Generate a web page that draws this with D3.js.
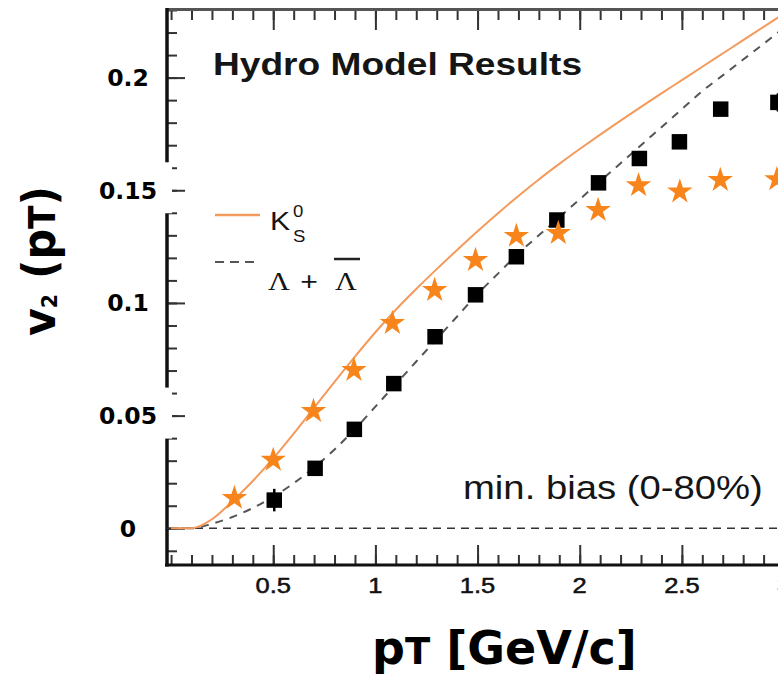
<!DOCTYPE html>
<html>
<head>
<meta charset="utf-8">
<script src="https://cdn.jsdelivr.net/npm/d3@7"></script>
<style>
  body { margin: 0; background: #fff; }
  svg { display: block; }
</style>
</head>
<body>
<svg width="778" height="677"></svg>
<script>
// hydro model curves
const hydroPt = [0, 0.1, 0.2, 0.3, 0.4, 0.5, 0.6, 0.7, 0.8, 0.9, 1.0, 1.1, 1.2, 1.3, 1.4, 1.5, 1.6,
                 1.7, 1.8, 1.9, 2.0, 2.1, 2.2, 2.3, 2.4, 2.5, 2.6, 2.7, 2.8, 2.9, 3.0, 3.1, 3.2];
const hydroK0s = [0, 0, 0.004, 0.012, 0.021, 0.031, 0.042, 0.0535, 0.065, 0.0762, 0.087, 0.097, 0.1062,
                  0.115, 0.1235, 0.1318, 0.1398, 0.1475, 0.1548, 0.1617, 0.1683, 0.1747, 0.1809, 0.187,
                  0.193, 0.1989, 0.2048, 0.2107, 0.2166, 0.2225, 0.2284, 0.2343, 0.240];
const hydroLambda = [0, 0, 0.002, 0.005, 0.009, 0.014, 0.020, 0.027, 0.035, 0.044, 0.054, 0.064, 0.074,
                     0.084, 0.094, 0.104, 0.113, 0.122, 0.130, 0.138, 0.146, 0.154, 0.162, 0.170, 0.178,
                     0.186, 0.194, 0.201, 0.208, 0.215, 0.222, 0.228, 0.234];

// measured points
const k0sPt = [0.31, 0.5, 0.697, 0.895, 1.083, 1.29, 1.49, 1.69, 1.895, 2.09, 2.288, 2.49, 2.688, 2.965];
const k0sV2 = [0.0134, 0.0303, 0.052, 0.0702, 0.091, 0.1057, 0.119, 0.1297, 0.131, 0.1412, 0.1522,
               0.1494, 0.1545, 0.1548];
const lambdaPt = [0.505, 0.705, 0.897, 1.09, 1.292, 1.49, 1.69, 1.888, 2.092, 2.292, 2.488, 2.69, 2.97];
const lambdaV2 = [0.0125, 0.0266, 0.0439, 0.0642, 0.085, 0.1036, 0.1205, 0.1368, 0.1533, 0.1641,
                  0.1715, 0.186, 0.189];
const lambdaErr = [0.005, 0.002, 0.002, 0.002, 0.002, 0.002, 0.002, 0.002, 0.003, 0.003, 0.003, 0.003, 0.004];

const xTicks = [0.5, 1, 1.5, 2, 2.5, 3];
const xTickLabels = ['0.5', '1', '1.5', '2', '2.5', '3'];
const yTicks = [0, 0.05, 0.1, 0.15, 0.2];
const yTickLabels = ['0', '0.05', '0.1', '0.15', '0.2'];
const yBoxed = [0.15, 0.05];

const orangeLine = '#f39a5c', orangeStar = '#f7851c';
const SX = 1.16; // the original figure is stretched sideways

const svg = d3.select('svg');
const x = d3.scaleLinear().domain([-0.02, 3.2]).range([167, 824.9]);
const y = d3.scaleLinear().domain([-0.0163, 0.23]).range([565, 10]);

function sText(parent, px, py, str, size, family, weight, anchor) {
  return parent.append('text')
    .attr('transform', `translate(${px},${py}) scale(${SX},1)`)
    .attr('font-family', family || 'Liberation Sans, Arial, sans-serif')
    .attr('font-size', size)
    .attr('font-weight', weight || 'normal')
    .attr('text-anchor', anchor || 'start')
    .attr('fill', '#151515')
    .text(str);
}

// ticks
const minorX = d3.range(0, 3.21, 0.1);
const minorY = d3.range(-0.01, 0.231, 0.01);
function styleAxis(g) {
  g.select('.domain').remove();
  g.selectAll('line').attr('stroke', '#333').attr('stroke-width', 2);
  g.selectAll('text').remove();
}
svg.append('g').attr('transform', 'translate(0,565)')
  .call(d3.axisTop(x).tickValues(minorX).tickSize(10)).call(styleAxis);
svg.append('g').attr('transform', 'translate(0,565)')
  .call(d3.axisTop(x).tickValues(xTicks).tickSize(20)).call(styleAxis);
svg.append('g').attr('transform', 'translate(0,10)')
  .call(d3.axisBottom(x).tickValues(minorX).tickSize(10)).call(styleAxis);
svg.append('g').attr('transform', 'translate(0,10)')
  .call(d3.axisBottom(x).tickValues(xTicks).tickSize(20)).call(styleAxis);
svg.append('g').attr('transform', 'translate(167,0)')
  .call(d3.axisRight(y).tickValues(minorY).tickSize(10)).call(styleAxis);
svg.append('g').attr('transform', 'translate(167,0)')
  .call(d3.axisRight(y).tickValues(yTicks).tickSize(18)).call(styleAxis);

// frame
svg.append('line').attr('x1', 166).attr('x2', 778).attr('y1', 9.5).attr('y2', 9.5)
  .attr('stroke', '#555').attr('stroke-width', 3);
svg.append('line').attr('x1', 165).attr('x2', 778).attr('y1', 565).attr('y2', 565)
  .attr('stroke', '#111').attr('stroke-width', 3);
svg.append('line').attr('x1', 167).attr('x2', 167).attr('y1', 8).attr('y2', 566.5)
  .attr('stroke', '#111').attr('stroke-width', 3.5);

// zero line
svg.append('line').attr('x1', x(-0.02)).attr('x2', 778).attr('y1', y(0)).attr('y2', y(0))
  .attr('stroke', '#333').attr('stroke-width', 1.6).attr('stroke-dasharray', '8,6');

// hydro curves
const line = d3.line().x(d => x(d[0])).y(d => y(d[1])).curve(d3.curveMonotoneX);
svg.append('path').datum(d3.zip(hydroPt, hydroLambda)).attr('d', line)
  .attr('fill', 'none').attr('stroke', '#555').attr('stroke-width', 2).attr('stroke-dasharray', '8,7');
svg.append('path').datum(d3.zip(hydroPt, hydroK0s)).attr('d', line)
  .attr('fill', 'none').attr('stroke', orangeLine).attr('stroke-width', 2);

// lambda points
const lam = d3.zip(lambdaPt, lambdaV2, lambdaErr);
svg.append('g').selectAll('line').data(lam).join('line')
  .attr('x1', d => x(d[0])).attr('x2', d => x(d[0]))
  .attr('y1', d => y(d[1] - d[2])).attr('y2', d => y(d[1] + d[2]))
  .attr('stroke', '#000').attr('stroke-width', 2.5);
svg.append('g').selectAll('path').data(lam).join('path')
  .attr('transform', d => `translate(${x(d[0])},${y(d[1])})`)
  .attr('d', d3.symbol(d3.symbolSquare).size(240))
  .attr('fill', '#000');

// K0s points
svg.append('g').selectAll('path').data(d3.zip(k0sPt, k0sV2)).join('path')
  .attr('transform', d => `translate(${x(d[0])},${y(d[1])})`)
  .attr('d', d3.symbol(d3.symbolStar).size(200))
  .attr('fill', orangeStar);

// texts inside the frame
sText(svg, 213, 75, 'Hydro Model Results', 32, null, 'bold');
sText(svg, 463, 499, 'min. bias (0-80%)', 33);

// legend
svg.append('line').attr('x1', 215).attr('x2', 260).attr('y1', 215).attr('y2', 215)
  .attr('stroke', orangeLine).attr('stroke-width', 2.5);
sText(svg, 270, 230, 'K', 26);
sText(svg, 293, 216.5, '0', 16);
sText(svg, 293, 241.5, 'S', 16);
svg.append('line').attr('x1', 215).attr('x2', 256).attr('y1', 262).attr('y2', 262)
  .attr('stroke', '#555').attr('stroke-width', 2).attr('stroke-dasharray', '9,6');
sText(svg, 268, 290, 'Λ', 26, 'Liberation Serif, Times New Roman, serif');
sText(svg, 309, 290, '+', 26, null, 'normal', 'middle');
sText(svg, 335, 290, 'Λ', 26, 'Liberation Serif, Times New Roman, serif');
svg.append('line').attr('x1', 334).attr('x2', 360).attr('y1', 259).attr('y2', 259)
  .attr('stroke', '#222').attr('stroke-width', 2.5);

// x tick labels
xTicks.forEach((v, i) => sText(svg, x(v), 593, xTickLabels[i], 22, null, 'normal', 'middle')
  .attr('fill', '#111').attr('stroke', '#111').attr('stroke-width', 0.5));

// white boxes behind some y labels (pasted over the axis in the original)
svg.append('g').selectAll('rect').data(yBoxed).join('rect')
  .attr('x', 97).attr('width', 75)
  .attr('y', d => y(d) - 28).attr('height', 51)
  .attr('fill', '#fff');

// y tick labels
const bold = 'DejaVu Sans, Verdana, sans-serif';
svg.append('g').selectAll('text').data(yTicks).join('text')
  .attr('x', 128).attr('y', d => y(d) + 8.5)
  .attr('text-anchor', 'middle')
  .attr('font-family', bold).attr('font-weight', 'bold').attr('font-size', 23.5)
  .attr('fill', '#000')
  .text((d, i) => yTickLabels[i]);

// axis titles
const yt = svg.append('text')
  .attr('transform', 'translate(55,261) rotate(-90) scale(0.93,1)')
  .attr('text-anchor', 'middle')
  .attr('font-family', bold).attr('font-weight', 'bold').attr('font-size', 46)
  .attr('fill', '#000');
yt.append('tspan').text('v');
yt.append('tspan').attr('font-size', 22).attr('dy', 2).text('2');
yt.append('tspan').attr('dy', -2).text(' (p');
yt.append('tspan').attr('font-size', 37).text('T');
yt.append('tspan').text(')');

const xt = svg.append('text')
  .attr('x', 372).attr('y', 664)
  .attr('font-family', bold).attr('font-weight', 'bold').attr('font-size', 46)
  .attr('fill', '#000');
xt.append('tspan').text('p');
xt.append('tspan').attr('font-size', 37).text('T');
xt.append('tspan').text(' [GeV/c]');
</script>
</body>
</html>
